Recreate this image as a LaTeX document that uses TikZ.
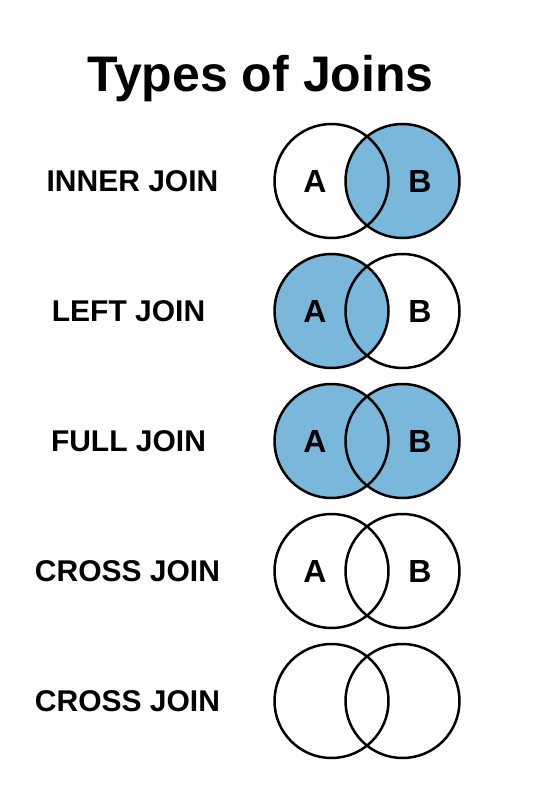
\documentclass[tikz,border=0pt]{standalone}
\usepackage{fontspec}
\setmainfont{Liberation Sans}
\usetikzlibrary{positioning}
\definecolor{ink}{HTML}{000000}
\definecolor{joinblue}{HTML}{7AB8DB}
\tikzset{
  title/.style={font=\fontsize{50}{56}\selectfont\bfseries,text=ink,anchor=base},
  joinlabel/.style={font=\fontsize{30}{34}\selectfont\bfseries,text=ink,inner sep=0pt},
  setletter/.style={font=\fontsize{32}{36}\selectfont\bfseries,text=ink,inner sep=0pt},
  setring/.style={draw=ink,line width=2.5pt},
  setfill/.style={fill=joinblue}
}
\begin{document}
\begin{tikzpicture}[x=1pt,y=-1pt]
  \useasboundingbox (0,0) rectangle (533,800);
  \node[title] (head) at (260.5,91) {Types of Joins};

  % inner join
  \coordinate (innerA) at (331.5,181);
  \coordinate (innerB) at (402.5,181);
  \fill[setfill] (innerB) circle (57);
  \draw[setring] (innerA) circle (57) (innerB) circle (57);
  \node[joinlabel] (innerlbl) at (132.5,181) {INNER JOIN};
  \node[setletter] (innerAtxt) at (315,181) {A};
  \node[setletter] (innerBtxt) at (420,181) {B};

  % left join
  \coordinate (leftA) at (331.5,311);
  \coordinate (leftB) at (402.5,311);
  \fill[setfill] (leftA) circle (57);
  \draw[setring] (leftA) circle (57) (leftB) circle (57);
  \node[joinlabel] (leftlbl) at (128.5,311) {LEFT JOIN};
  \node[setletter] (leftAtxt) at (315,311) {A};
  \node[setletter] (leftBtxt) at (420,311) {B};

  % full join
  \coordinate (fullA) at (331.5,441);
  \coordinate (fullB) at (402.5,441);
  \fill[setfill] (fullA) circle (57) (fullB) circle (57);
  \draw[setring] (fullA) circle (57) (fullB) circle (57);
  \node[joinlabel] (fulllbl) at (128.5,441) {FULL JOIN};
  \node[setletter] (fullAtxt) at (315,441) {A};
  \node[setletter] (fullBtxt) at (420,441) {B};

  % cross join
  \coordinate (crossA) at (331.5,571);
  \coordinate (crossB) at (402.5,571);
  \draw[setring] (crossA) circle (57) (crossB) circle (57);
  \node[joinlabel] (crosslbl) at (127.5,571) {CROSS JOIN};
  \node[setletter] (crossAtxt) at (315,571) {A};
  \node[setletter] (crossBtxt) at (420,571) {B};

  % cross join, no letters
  \coordinate (emptyA) at (331.5,701);
  \coordinate (emptyB) at (402.5,701);
  \draw[setring] (emptyA) circle (57) (emptyB) circle (57);
  \node[joinlabel] (emptylbl) at (127.5,701) {CROSS JOIN};
\end{tikzpicture}
\end{document}
